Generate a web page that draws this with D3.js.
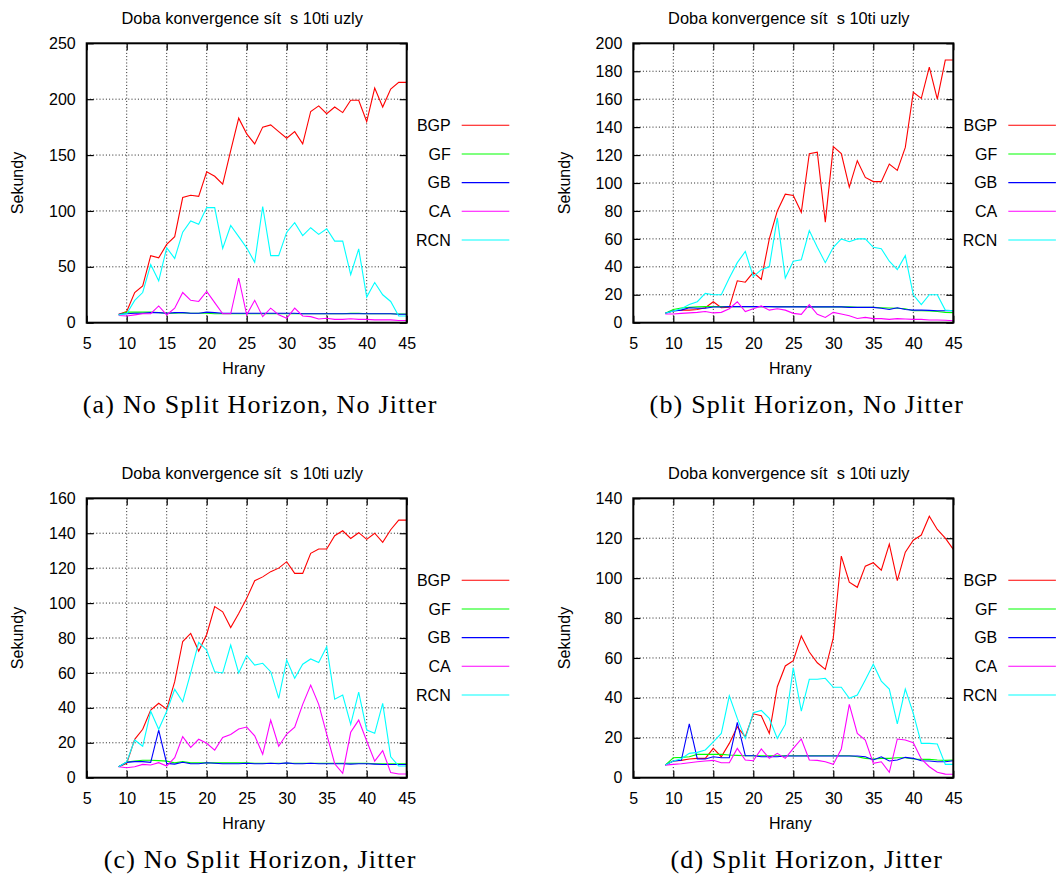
<!DOCTYPE html>
<html><head><meta charset="utf-8">
<script src="https://cdn.jsdelivr.net/npm/d3@7"></script>
<style>
body{margin:0;background:#fff}
svg{display:block}
text{font-family:"Liberation Sans",Arial,Helvetica,sans-serif;fill:#000}
.cap{font-family:"Liberation Serif","Times New Roman",serif}
.ttl{white-space:pre}
</style>
</head><body>
<svg id="chart" width="1061" height="874"></svg>
<script>
// ---- data ----
const edges = [9,10,11,12,13,14,15,16,17,18,19,20,21,22,23,24,25,26,27,28,29,30,31,32,33,34,35,36,37,38,39,40,41,42,43,44,45];
const seriesNames = ["BGP","GF","GB","CA","RCN"];
const seriesColors = ["#ff0000","#00ff00","#0000ff","#ff00ff","#00ffff"];
const xTicks = [5,10,15,20,25,30,35,40,45];
const chartTitle = "Doba konvergence sít  s 10ti uzly";
const xLabel = "Hrany";
const yLabel = "Sekundy";

// (a) No Split Horizon, No Jitter
const yTicksA = [0,50,100,150,200,250];
const bgpA = [7.5,10,27,33,60,58,70,77,112,114,113,135,131,124,154,183,169,160,175,177,171,165,171,160,189,194,187,193,188,199,199,180,210,193,209,215,215];
const gfA  = [7,9.5,9.5,9.5,9.5,9,8.5,8.5,9,8.5,8.5,8.5,8,8,8,8,8,8,8,8,8,8,8,8,8,8,8,8,8,8.3,8.3,8,8,8,8,7.8,7.8];
const gbA  = [7.5,8,8.5,8.5,9,9,8.5,9,9,8.5,8.5,9.5,9,8.5,8.5,8.5,8.5,8.5,8.5,8.5,8.5,8.5,8.5,8,8,8,8,8,8,8,8,8,8,8,8,7.5,7.5];
const caA  = [6.5,6,7,8,8,15,7,13,27,20,19,28,18,8,8,40,7,20,5.4,13,7,4,13,6,5.4,3.3,4,3,3,3.5,3,3,2.5,2.5,2.5,2,2];
const rcnA = [7,8,20,27,52,37.5,67,57.5,81,91,88,103,103,66.5,87,77,67,54,104,60,60,81,89.5,78,85,79,84,73,73,43,66,23,36,25,19,6,6];

// (b) Split Horizon, No Jitter
const yTicksB = [0,20,40,60,80,100,120,140,160,180,200];
const bgpB = [6.7,8.6,9,9,9.5,10.7,15,10.7,11,30,29,36,31,60,80,92,91,79,121,122,72,126,121,97,116,104,101,101,113.6,109,125.5,165,160.6,183,160,188,188];
const gfB  = [6.7,9.5,10.5,11,11.3,11.5,11.5,11.5,11.5,11.5,11.5,11.5,11.5,11.5,11.5,11.5,11.5,11.5,11.3,11.3,11.3,11.3,11.3,11.3,11,11,11,10.7,10.5,10.3,10,8.6,8.5,8.4,8,7.4,7.2];
const gbB  = [6.7,8.4,9,10.7,10.3,10.3,11.2,11.2,11.5,11.5,11.5,11.5,11.5,11.5,11.3,11.3,11.3,11.3,11.3,11.3,11.3,11.3,11.3,11,11,11,11,10.3,9.5,10.7,9.5,9,9,8.8,8.6,8.6,8.6];
const caB  = [6.2,6.2,6.7,7,7.4,8,7,7.4,10,15,8,10,12,9,10,9,6.7,6,13,6,3.8,7.4,6.2,5,3,3.8,2.9,2.9,2.4,2.9,2.6,2.4,2.4,1.9,1.9,1.7,1.4];
const rcnB = [6.7,8.4,10,13,15,21,20,20,32,43,51,33,38,40,75,32,44,45,66,54,43,54,60,58,60,60,54,53,44,38,48,20,13,20,20,9,8.6];

// (c) No Split Horizon, Jitter
const yTicksC = [0,20,40,60,80,100,120,140,160];
const bgpC = [6.3,8.2,22,27.7,38.7,42.6,39.3,55,78,82.6,72.5,82,98,95,86,94,102.7,112.8,115,118,120,123.7,117,117,128.5,131,131,138.6,141.4,137,140.3,136.5,140,134.8,142,147.5,147.5];
const gfC  = [6.3,9,9.5,10,10,9.8,9.5,8.5,9.2,8.5,8.5,8.5,8.5,8.5,8.5,8.5,8.5,8.3,8.3,8.3,8.3,8.3,8.3,8.3,8.3,8.3,8.3,8.3,8.3,8.3,8.3,8.3,8,8,8,8,8];
const gbC  = [6.3,8.8,9.2,9.2,8.8,27.3,8.2,7.8,8.8,8,8,8.6,8.3,8,8,8,8.3,8,8,8.3,8,8.5,8,8,8.3,8,8,8,8,7.8,8,8,7.8,7.6,7.6,7.6,7.6];
const caC  = [6.3,5.7,6.3,7.6,7.3,8.6,6.7,11.5,23.5,17.4,22,19.7,15.8,23,24.8,27.9,29,24,13.4,33,18,25,29,42,53,42,25,8,2.5,26,33,21,9.5,15.5,2.9,2.1,2.1];
const rcnC = [6.3,9,21.6,18,38,27.7,38,50.6,43.5,60,77.5,73,60.7,60,76,60,70,64.5,65.5,60.7,45.4,67.4,57,65,68,66,75,45,47.3,30.5,49,27.3,25.4,42.6,12,6.7,6.7];

// (d) Split Horizon, Jitter
const yTicksD = [0,20,40,60,80,100,120,140];
const bgpD = [6.3,8.4,8.7,9.4,9.7,9.7,14.7,10.5,17.2,25.5,20.5,32,31,22.2,45.6,56,58.6,71,63,57.6,54.3,70,111,98,95.4,106,107.7,104,117,98.7,113,119,121.6,131,124.4,120,114.4];
const gfD  = [6.3,10,10.2,10.5,11.7,11.7,11.7,11.7,11.4,11.2,11,11,11,11,11,11,11,11,11,11,11,11,11,11,10.5,9.7,9.4,9.7,9.7,10,10,9.4,9.2,9.2,8.9,8.7,8.9];
const gbD  = [6.3,8.4,8.7,27,9.4,9.4,10.5,10,10,27.7,11,11,10.5,10.5,10.5,10.9,10.9,10.9,10.9,10.9,10.9,10.9,10.9,10.9,10.9,10.5,8.9,10.5,8.4,8.9,10.2,9.7,8.5,8.4,8,8,8.5];
const caD  = [6.3,6.7,7,7.5,8,8.4,8.7,7.5,7.5,14.7,8.9,8.5,14.4,9.7,12.2,9.7,14.7,19.4,8.9,8.7,8,6.7,14.4,36.7,22.2,18.9,7.2,8,2.7,19.4,18.9,17.5,9.4,5.5,2.7,1.8,1.7];
const rcnD = [6.3,8.4,9.5,12.2,12.7,13.9,18,22.2,41,29.7,19.7,32.6,33.7,29.7,19.7,26.7,55,33.4,49.3,49.3,49.8,45.3,45.3,39.8,41.4,49,56.8,48.4,44.4,27,44.4,32.2,17.2,17.2,16.9,6.7,6.7];

const captions = ["(a) No Split Horizon, No Jitter","(b) Split Horizon, No Jitter","(c) No Split Horizon, Jitter","(d) Split Horizon, Jitter"];

const panels = [
  {cap: captions[0], yTicks: yTicksA, series: [bgpA, gfA, gbA, caA, rcnA], left: 86.7,  top: 43.3},
  {cap: captions[1], yTicks: yTicksB, series: [bgpB, gfB, gbB, caB, rcnB], left: 633.3, top: 43.3},
  {cap: captions[2], yTicks: yTicksC, series: [bgpC, gfC, gbC, caC, rcnC], left: 86.7,  top: 498.3},
  {cap: captions[3], yTicks: yTicksD, series: [bgpD, gfD, gbD, caD, rcnD], left: 633.3, top: 498.3}
];

// ---- layout ----
const W = 320, H = 279.4;
const FS = 16;
const svg = d3.select("#chart");
svg.append("rect").attr("width",1061).attr("height",874).attr("fill","#fff");

panels.forEach(p => {
  const g = svg.append("g").attr("transform", `translate(${p.left},${p.top})`);
  const x = d3.scaleLinear().domain([xTicks[0], xTicks[xTicks.length-1]]).range([0, W]);
  const yMax = p.yTicks[p.yTicks.length-1];
  const y = d3.scaleLinear().domain([0, yMax]).range([H, 0]);

  // grid
  const grid = g.append("g").attr("stroke","#222").attr("stroke-width",1).attr("stroke-dasharray","1,2.2");
  xTicks.slice(1,-1).forEach(t => grid.append("line").attr("x1",x(t)).attr("x2",x(t)).attr("y1",0).attr("y2",H));
  p.yTicks.slice(1,-1).forEach(t => grid.append("line").attr("x1",0).attr("x2",W).attr("y1",y(t)).attr("y2",y(t)));

  // axes (inward ticks, mirrored)
  const axL = g.append("g").call(d3.axisLeft(y).tickValues(p.yTicks).tickSize(-7).tickPadding(11));
  const axR = g.append("g").attr("transform",`translate(${W},0)`).call(d3.axisRight(y).tickValues(p.yTicks).tickSize(-7).tickFormat(""));
  const axB = g.append("g").attr("transform",`translate(0,${H})`).call(d3.axisBottom(x).tickValues(xTicks).tickSize(-7).tickPadding(14.6));
  const axT = g.append("g").call(d3.axisTop(x).tickValues(xTicks).tickSize(-7).tickFormat(""));
  [axL,axR,axB,axT].forEach(a => {
    a.select(".domain").remove();
    a.selectAll("line").attr("stroke","#000").attr("stroke-width",1.2);
    a.selectAll("text").attr("font-size",FS).attr("font-family",'"Liberation Sans",Arial,sans-serif').attr("fill","#000");
  });

  // series
  const line = d3.line().x((d,i) => x(edges[i])).y(d => y(d));
  p.series.forEach((s, k) => {
    g.append("path").datum(s).attr("d", line).attr("fill","none")
      .attr("stroke", seriesColors[k]).attr("stroke-width",1.1).attr("stroke-linejoin","miter");
  });

  // border
  g.append("rect").attr("x",0).attr("y",0).attr("width",W).attr("height",H)
    .attr("fill","none").attr("stroke","#000").attr("stroke-width",2);

  // title & labels
  g.append("text").attr("class","ttl").attr("xml:space","preserve").attr("x",W/2-4.5).attr("y",-19.8)
    .attr("text-anchor","middle").attr("font-size",16.4).text(chartTitle);
  g.append("text").attr("x",W/2-3).attr("y",H+51).attr("text-anchor","middle").attr("font-size",FS).text(xLabel);
  g.append("text").attr("transform",`translate(-63.2,${H/2}) rotate(-90)`).attr("text-anchor","middle").attr("font-size",FS).text(yLabel);

  // legend
  seriesNames.forEach((n, k) => {
    const ly = 82 + k*28.67;
    g.append("text").attr("x",W+44).attr("y",ly).attr("dy","0.35em").attr("text-anchor","end").attr("font-size",FS).text(n);
    g.append("line").attr("x1",W+55).attr("x2",W+102.6).attr("y1",ly).attr("y2",ly)
      .attr("stroke",seriesColors[k]).attr("stroke-width",1.1);
  });

  // caption
  g.append("text").attr("class","cap").attr("x",173.5).attr("y",370).attr("text-anchor","middle")
    .attr("font-size",26).attr("letter-spacing","1.2px").text(p.cap);
});
</script>
</body></html>
